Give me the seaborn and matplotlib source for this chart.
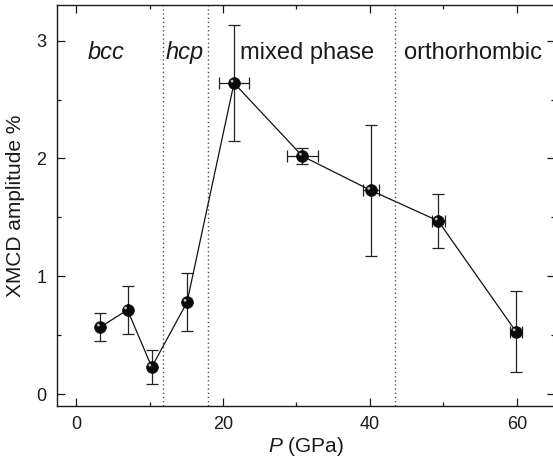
import matplotlib
matplotlib.use("Agg")
import matplotlib.pyplot as plt
import matplotlib.transforms as mtransforms
from matplotlib.ticker import MultipleLocator
import numpy as np
import pandas as pd
import seaborn as sns

# Pressure (GPa) and XMCD amplitude (%) with uncertainties
pressure = [3.3, 7.0, 10.3, 15.1, 21.5, 30.8, 40.1, 49.3, 59.9]
amplitude = [0.57, 0.715, 0.23, 0.78, 2.64, 2.02, 1.73, 1.47, 0.53]
amplitude_err = [0.12, 0.20, 0.145, 0.245, 0.49, 0.07, 0.555, 0.227, 0.345]
pressure_err = [0.0, 0.0, 0.0, 0.0, 2.0, 2.1, 1.1, 0.9, 0.8]

# Phase boundaries (GPa) and phase names
boundaries = [11.8, 17.9, 43.4]
phase_names = ["bcc", "hcp", "mixed phase", "orthorhombic"]
phase_centers = [4.15, 14.76, 31.5, 54.1]
phase_italic = [True, True, False, False]

df = pd.DataFrame({"P": pressure, "amp": amplitude,
                   "amp_err": amplitude_err, "P_err": pressure_err})

sns.set_style("ticks")
plt.rcParams["font.family"] = ["Liberation Sans", "DejaVu Sans"]
plt.rcParams["mathtext.fontset"] = "custom"
plt.rcParams["mathtext.it"] = "Liberation Sans:italic"
plt.rcParams["mathtext.rm"] = "Liberation Sans"

fig = plt.figure(figsize=(5.53, 4.59), dpi=100)
ax = fig.add_axes([57 / 553, 1 - 406 / 459, (555 - 57) / 553, (406 - 5) / 459])

# phase boundaries
for b in boundaries:
    ax.axvline(b, color="#555555", lw=1.0, ls=(0, (1, 2)), zorder=1)

# error bars
ax.errorbar(df["P"], df["amp"], yerr=df["amp_err"], fmt="none",
            ecolor="#222222", elinewidth=0.9, capsize=4.5, capthick=0.9, zorder=2)
mask = df["P_err"] > 0
ax.errorbar(df.loc[mask, "P"], df.loc[mask, "amp"], xerr=df.loc[mask, "P_err"],
            fmt="none", ecolor="#222222", elinewidth=0.9, capsize=4.5,
            capthick=0.9, zorder=2)

# connecting line with sphere-like markers
sns.lineplot(data=df, x="P", y="amp", color="#111111", lw=0.9, marker="o",
             markersize=8.5, markerfacecolor="#0a0a0a", markeredgecolor="#0a0a0a",
             markeredgewidth=0.5, ax=ax, zorder=3, sort=False)
hl = mtransforms.offset_copy(ax.transData, fig=fig, x=-1.4, y=1.4, units="points")
ax.scatter(df["P"], df["amp"], s=4, color="#bdbdbd", edgecolor="none",
           transform=hl, zorder=4)

# phase labels
for name, xc, it in zip(phase_names, phase_centers, phase_italic):
    ax.text(xc, 2.84, name, ha="center", va="baseline", fontsize=17,
            style="italic" if it else "normal", color="#1a1a1a")

ax.set_xlim(-2.6, 65.2)
ax.set_ylim(-0.1, 3.302)
ax.xaxis.set_major_locator(MultipleLocator(20))
ax.xaxis.set_minor_locator(MultipleLocator(10))
ax.yaxis.set_major_locator(MultipleLocator(1))
ax.yaxis.set_minor_locator(MultipleLocator(0.5))
ax.tick_params(which="both", direction="in", top=True, right=True,
               colors="#1a1a1a", width=0.9)
ax.tick_params(which="major", length=6, labelsize=13, pad=7.5)
ax.tick_params(which="minor", length=3)
for s in ax.spines.values():
    s.set_linewidth(1.0)
    s.set_color("#1a1a1a")

ax.set_xlabel("$\\mathit{P}$ (GPa)", fontsize=15, labelpad=1, color="#1a1a1a")
ax.set_ylabel("XMCD amplitude %", fontsize=15, labelpad=8, color="#1a1a1a")

fig.savefig("out.png", dpi=100)
